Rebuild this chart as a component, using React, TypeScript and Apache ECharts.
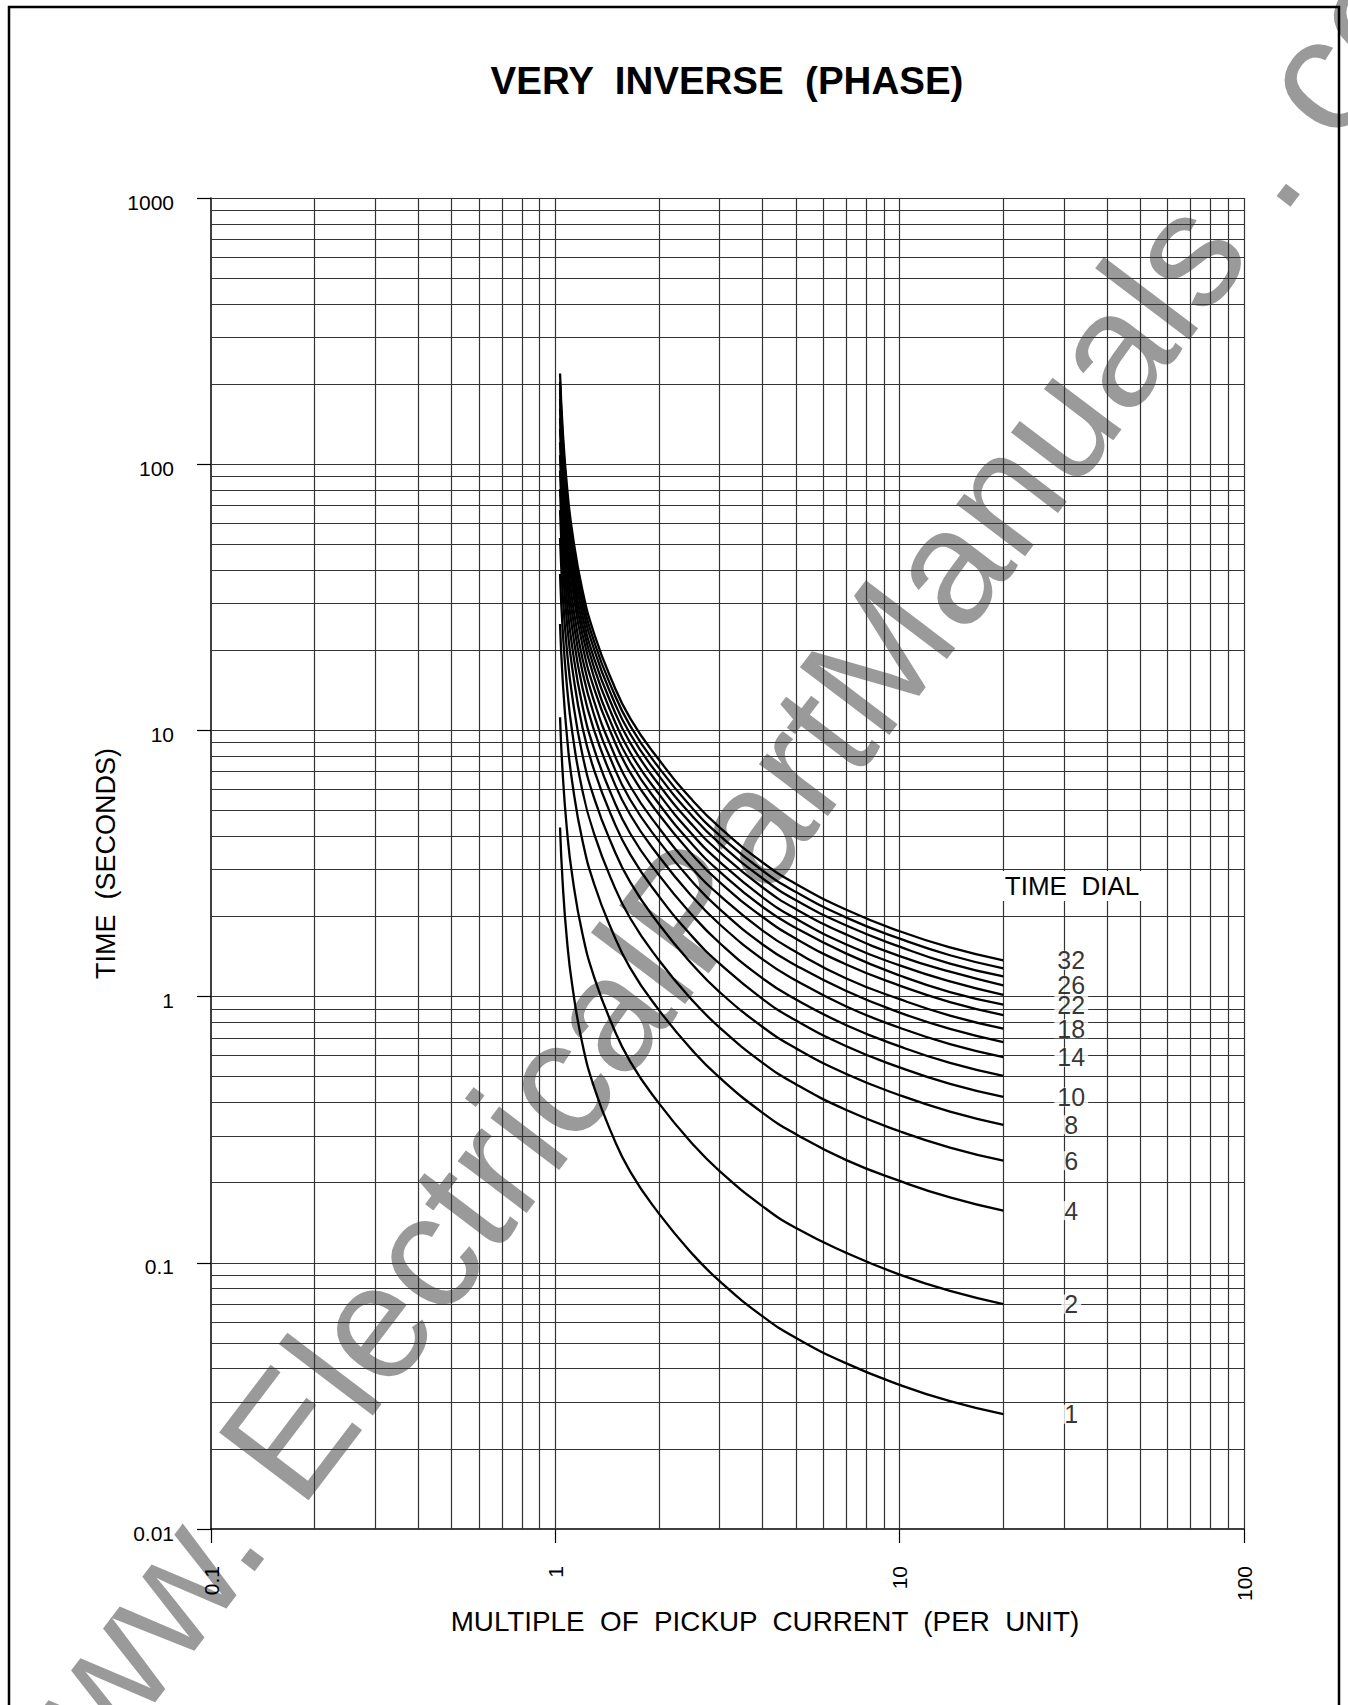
import React, { useEffect, useRef } from "react";
import * as echarts from "echarts";

// Multiple of pickup current at which each curve was read
const MULTIPLES = [1.032, 1.05, 1.08, 1.12, 1.2, 1.3, 1.45, 1.65, 2, 2.5, 3, 4, 5, 7, 10, 14, 20];

// Operating time (s) read for each time dial
const DIAL_1 = [4.32, 2.69, 1.65, 1.1, 0.659, 0.451, 0.311, 0.22, 0.153, 0.108, 0.0853, 0.0629, 0.0522, 0.0419, 0.0348, 0.0302, 0.027];
const DIAL_2 = [11.2, 6.97, 4.28, 2.84, 1.71, 1.17, 0.805, 0.57, 0.397, 0.28, 0.221, 0.163, 0.135, 0.109, 0.0903, 0.0784, 0.07];
const DIAL_4 = [25.1, 15.6, 9.61, 6.37, 3.83, 2.62, 1.81, 1.28, 0.89, 0.628, 0.496, 0.366, 0.304, 0.243, 0.203, 0.176, 0.157];
const DIAL_6 = [38.7, 24.1, 14.8, 9.83, 5.9, 4.04, 2.78, 1.97, 1.37, 0.968, 0.765, 0.564, 0.468, 0.375, 0.312, 0.271, 0.242];
const DIAL_8 = [52.8, 32.9, 20.2, 13.4, 8.05, 5.51, 3.8, 2.69, 1.87, 1.32, 1.04, 0.769, 0.639, 0.512, 0.426, 0.37, 0.33];
const DIAL_10 = [67.2, 41.8, 25.7, 17.1, 10.2, 7.01, 4.83, 3.42, 2.38, 1.68, 1.33, 0.979, 0.813, 0.651, 0.542, 0.47, 0.42];
const DIAL_12 = [80.6, 50.2, 30.8, 20.5, 12.3, 8.42, 5.8, 4.1, 2.86, 2.02, 1.59, 1.17, 0.975, 0.781, 0.65, 0.564, 0.504];
const DIAL_14 = [94.7, 59.0, 36.2, 24.0, 14.4, 9.89, 6.81, 4.82, 3.36, 2.37, 1.87, 1.38, 1.15, 0.918, 0.764, 0.663, 0.592];
const DIAL_16 = [108, 67.2, 41.3, 27.4, 16.5, 11.3, 7.76, 5.49, 3.83, 2.7, 2.13, 1.57, 1.31, 1.05, 0.871, 0.756, 0.675];
const DIAL_18 = [121, 75.5, 46.4, 30.8, 18.5, 12.7, 8.72, 6.17, 4.3, 3.03, 2.4, 1.77, 1.47, 1.17, 0.978, 0.849, 0.758];
const DIAL_20 = [136, 84.9, 52.1, 34.6, 20.8, 14.2, 9.8, 6.94, 4.83, 3.41, 2.69, 1.99, 1.65, 1.32, 1.1, 0.954, 0.852];
const DIAL_22 = [149, 92.9, 57.1, 37.9, 22.8, 15.6, 10.7, 7.59, 5.29, 3.73, 2.95, 2.17, 1.81, 1.45, 1.2, 1.04, 0.933];
const DIAL_24 = [162, 101, 62.1, 41.2, 24.8, 17.0, 11.7, 8.26, 5.76, 4.06, 3.21, 2.36, 1.96, 1.57, 1.31, 1.14, 1.015];
const DIAL_26 = [176, 110, 67.5, 44.8, 26.9, 18.4, 12.7, 8.98, 6.25, 4.41, 3.49, 2.57, 2.13, 1.71, 1.42, 1.24, 1.103];
const DIAL_28 = [191, 119, 72.9, 48.4, 29.1, 19.9, 13.7, 9.69, 6.75, 4.76, 3.76, 2.78, 2.3, 1.85, 1.54, 1.33, 1.191];
const DIAL_30 = [204, 127, 78.1, 51.8, 31.1, 21.3, 14.7, 10.4, 7.23, 5.1, 4.03, 2.97, 2.47, 1.98, 1.65, 1.43, 1.276];
const DIAL_32 = [219, 136, 83.7, 55.5, 33.4, 22.8, 15.7, 11.1, 7.76, 5.47, 4.32, 3.19, 2.65, 2.12, 1.76, 1.53, 1.368];

const DIAL_SETTINGS = [1, 2, 4, 6, 8, 10, 12, 14, 16, 18, 20, 22, 24, 26, 28, 30, 32];
const DIAL_VALUES = [DIAL_1, DIAL_2, DIAL_4, DIAL_6, DIAL_8, DIAL_10, DIAL_12, DIAL_14, DIAL_16, DIAL_18, DIAL_20, DIAL_22, DIAL_24, DIAL_26, DIAL_28, DIAL_30, DIAL_32];
const LABELED_DIALS = [1, 2, 4, 6, 8, 10, 14, 18, 22, 26, 32];

// Grid lines of the log-log paper
const X_GRID = [0.2, 0.3, 0.4, 0.5, 0.6, 0.7, 0.8, 0.9, 1, 2, 3, 4, 5, 6, 7, 8, 9, 10, 20, 30, 40, 50, 60, 70, 80, 90, 100];
const Y_GRID = [
  0.02, 0.03, 0.04, 0.05, 0.06, 0.07, 0.08, 0.09, 0.1,
  0.2, 0.3, 0.4, 0.5, 0.6, 0.7, 0.8, 0.9, 1,
  2, 3, 4, 5, 6, 7, 8, 9, 10,
  20, 30, 40, 50, 60, 70, 80, 90, 100,
  200, 300, 400, 500, 600, 700, 800, 900, 1000,
];

const TITLE = "VERY  INVERSE  (PHASE)";
const X_NAME = "MULTIPLE  OF  PICKUP  CURRENT  (PER  UNIT)";
const Y_NAME = "TIME  (SECONDS)";
const LEGEND_TITLE = "TIME  DIAL";
const WATERMARK = "www. ElectricalPartManuals . com";

const FONT = "'Liberation Sans', Arial, Helvetica, sans-serif";
const LABEL_X = 31.5; // x position (per unit) of dial labels column

function fmt(v: number) {
  return String(Number(Number(v).toPrecision(4)));
}

export default function App() {
  const ref = useRef<HTMLDivElement>(null);

  useEffect(() => {
    if (!ref.current) return;
    const chart = echarts.init(ref.current, null, { renderer: "svg" });

    const curveSeries = DIAL_SETTINGS.map((dial, i) => ({
      type: "line",
      name: "Dial " + dial,
      data: MULTIPLES.map((m, j) => [m, DIAL_VALUES[i][j]]),
      symbol: "none",
      smooth: 0.5,
      lineStyle: { color: "#000", width: 2.3 },
      silent: true,
      z: 3,
    }));

    const labelData = LABELED_DIALS.map((dial) => {
      const idx = DIAL_SETTINGS.indexOf(dial);
      const vals = DIAL_VALUES[idx];
      return { name: String(dial), value: [LABEL_X, vals[vals.length - 1]] };
    });

    const option: any = {
      animation: false,
      backgroundColor: "#fff",
      textStyle: { fontFamily: FONT },
      title: {
        text: TITLE,
        left: 722,
        top: 56,
        textAlign: "center",
        textStyle: { fontFamily: FONT, fontSize: 38.5, fontWeight: "bold", color: "#000" },
      },
      grid: { left: 211, top: 198, width: 1033, height: 1331, outerBoundsMode: "none", containLabel: false },
      xAxis: {
        type: "log",
        logBase: 10,
        min: 0.1,
        max: 100,
        name: X_NAME,
        nameLocation: "middle",
        nameGap: 78,
        nameMoveOverlap: false,
        nameTextStyle: { fontFamily: FONT, fontSize: 27.8, color: "#000", padding: [0, 0, 0, 75] },
        axisLine: { show: true, onZero: false, lineStyle: { color: "#000", width: 1.5 } },
        axisTick: { show: true, length: 14, lineStyle: { color: "#000", width: 1.2 } },
        axisLabel: { rotate: 90, margin: 37, fontSize: 21, color: "#000", fontFamily: FONT, formatter: fmt },
        splitLine: { show: false },
        minorTick: { show: false },
      },
      yAxis: {
        type: "log",
        logBase: 10,
        min: 0.01,
        max: 1000,
        name: Y_NAME,
        nameLocation: "middle",
        nameGap: 92,
        nameMoveOverlap: false,
        nameTextStyle: { fontFamily: FONT, fontSize: 27, color: "#000" },
        axisLine: { show: true, onZero: false, lineStyle: { color: "#000", width: 1.5 } },
        axisTick: { show: true, length: 14, lineStyle: { color: "#000", width: 1.2 } },
        axisLabel: {
          margin: 37,
          fontSize: 21,
          color: "#000",
          fontFamily: FONT,
          formatter: fmt,
          verticalAlign: "top",
          lineHeight: 8,
        },
        splitLine: { show: false },
        minorTick: { show: false },
      },
      graphic: [
        {
          type: "text",
          x: 735,
          y: 845,
          rotation: 0.9215,
          z: -100,
          silent: true,
          style: {
            text: WATERMARK,
            fontSize: 163,
            fontFamily: FONT,
            fill: "#9a9a9a",
            align: "center",
            verticalAlign: "middle",
          },
        },
        {
          type: "text",
          x: 1072,
          y: 886,
          z: 100,
          style: {
            text: LEGEND_TITLE,
            fontSize: 26,
            fontFamily: FONT,
            fill: "#000",
            align: "center",
            verticalAlign: "middle",
            backgroundColor: "#fff",
            padding: [2, 5, 2, 5],
          },
        },
        {
          type: "rect",
          z: 100,
          silent: true,
          shape: { x: 9, y: 7, width: 1330, height: 1730 },
          style: { fill: "transparent", stroke: "#000", lineWidth: 2.5 },
        },
      ],
      series: [
        {
          type: "line",
          name: "grid",
          data: [],
          silent: true,
          z: 1,
          markLine: {
            silent: true,
            z: 1,
            symbol: ["none", "none"],
            label: { show: false },
            emphasis: { disabled: true },
            lineStyle: { color: "#333", width: 1.2, type: "solid" },
            data: [
              ...X_GRID.map((v) => ({ xAxis: v })),
              ...Y_GRID.map((v) => ({ yAxis: v })),
            ],
          },
        },
        ...curveSeries,
        {
          type: "scatter",
          name: "dial labels",
          data: labelData,
          symbolSize: 1,
          itemStyle: { color: "rgba(0,0,0,0)" },
          silent: true,
          z: 5,
          label: {
            show: true,
            position: "inside",
            formatter: "{b}",
            color: "#000",
            fontSize: 25,
            fontFamily: FONT,
            backgroundColor: "#fff",
            padding: [0, 3, 0, 3],
            lineHeight: 19,
          },
        },
      ],
    };

    chart.setOption(option);
    return () => chart.dispose();
  }, []);

  return (
    <div
      ref={ref}
      style={{ position: "absolute", left: 0, top: 0, width: 1348, height: 1705, background: "#fff" }}
    />
  );
}
